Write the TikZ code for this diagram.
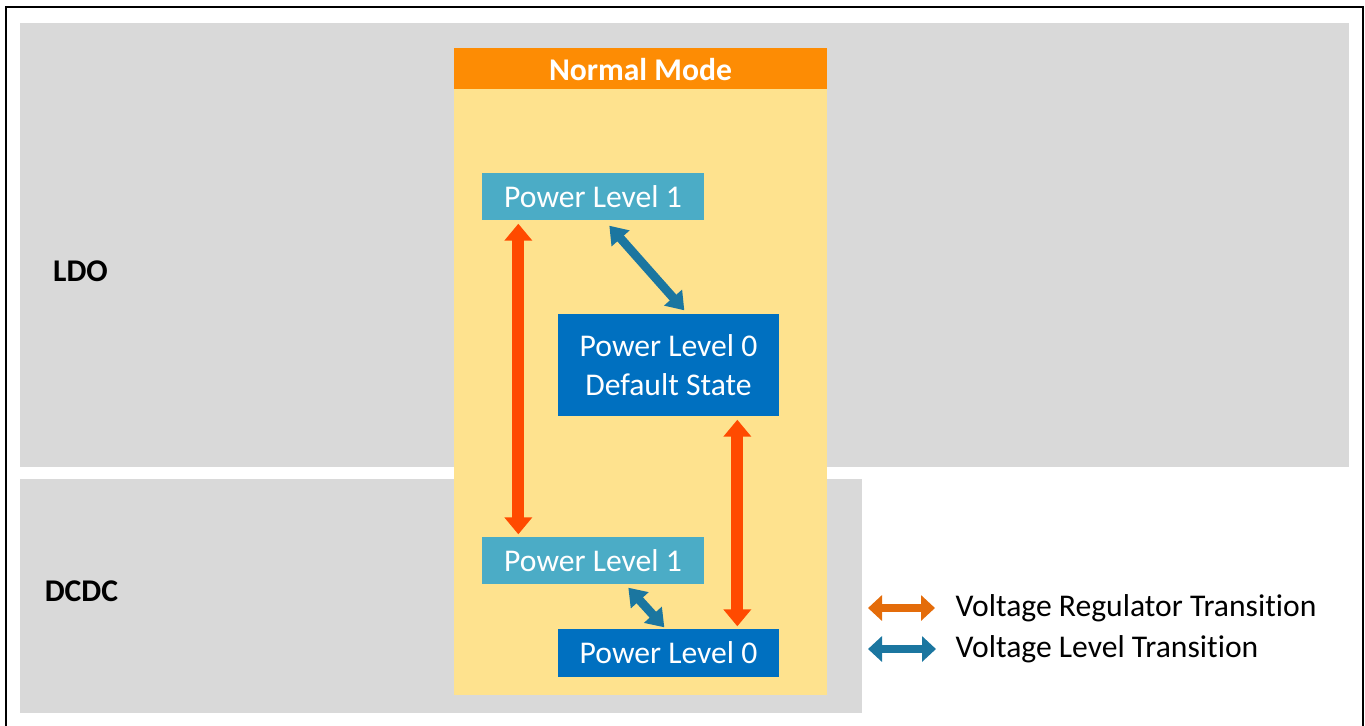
\documentclass[tikz,border=0pt]{standalone}
\usepackage{fontspec}
\setmainfont{Carlito}[Ligatures=NoCommon]
\usetikzlibrary{arrows.meta,calc}
\definecolor{bandgray}{HTML}{D9D9D9}
\definecolor{modeyellow}{HTML}{FEE28E}
\definecolor{modeorange}{HTML}{FD8C04}
\definecolor{lightlvl}{HTML}{4BACC6}
\definecolor{darklvl}{HTML}{0070C0}
\definecolor{regred}{HTML}{FF4A00}
\definecolor{lvlblue}{HTML}{1B76A0}
\definecolor{legorange}{HTML}{E46C0A}
\begin{document}
\begin{tikzpicture}[x=0.02cm,y=-0.02cm,line width=.8pt,
  lvl/.style={text=white,font=\fontsize{18}{22}\selectfont,align=center,inner sep=0pt},
  reg/.style={line width=7pt,regred,{Triangle[width=.54cm,length=.34cm]}-{Triangle[width=.54cm,length=.34cm]}},
  volt/.style={line width=5pt,lvlblue,{Triangle[width=.46cm,length=.34cm]}-{Triangle[width=.46cm,length=.34cm]}}]
\path[use as bounding box,clip] (0,0) rectangle (1365,725);
\draw[line width=1.2pt] (6,7) rectangle (1363,760);
\fill[bandgray] (20,23) rectangle (1349,467); \fill[bandgray] (20,479) rectangle (862,713);
\fill[modeyellow] (454,48) rectangle (827,695); \fill[modeorange] (454,48) rectangle (827,89);
\node[text=white,font=\fontsize{18}{22}\selectfont\bfseries] (mode) at (640.5,70) {Normal Mode};
\node[font=\fontsize{18}{22}\selectfont\bfseries] (ldo) at (80.5,271) {LDO};
\node[font=\fontsize{18}{22}\selectfont\bfseries] (dcdc) at (81.5,591) {DCDC};
\node[lvl,fill=lightlvl,minimum width=4.44cm,minimum height=.94cm] (ldoa) at (593,196.5) {Power Level 1};
\node[lvl,fill=darklvl,minimum width=4.42cm,minimum height=2.04cm] (ldob) at (668.5,365) {Power Level 0\\Default State};
\node[lvl,fill=lightlvl,minimum width=4.44cm,minimum height=.94cm] (dca) at (593,560.5) {Power Level 1};
\node[lvl,fill=darklvl,minimum width=4.42cm,minimum height=.96cm] (dcb) at (668.5,653) {Power Level 0};
\draw[reg] ($(ldoa.south west)+(37,3)$) -- ($(dca.north west)+(37,-2)$);
\draw[reg] ($(ldob.south west)+(180,3)$) -- ($(dcb.north west)+(180,-2)$);
\draw[volt] ($(ldoa.south west)+(128,5)$) -- ($(ldob.north west)+(127,-3)$);
\draw[volt] ($(dca.south west)+(147,3)$) -- ($(dcb.north west)+(107,-1)$);
% legend
\node[anchor=west,font=\fontsize{18}{22}\selectfont] (legreg) at (949,608) {Voltage Regulator Transition};
\node[anchor=west,font=\fontsize{18}{22}\selectfont] (legvolt) at (949,649) {Voltage Level Transition};
\draw[line width=4.6pt,legorange,{Triangle[width=.5cm,length=.28cm]}-{Triangle[width=.5cm,length=.28cm]}] ($(legreg.west)+(-81,0)$) -- ($(legreg.west)+(-14,0)$);
\draw[line width=4.6pt,lvlblue,{Triangle[width=.5cm,length=.28cm]}-{Triangle[width=.5cm,length=.28cm]}] ($(legvolt.west)+(-81,0)$) -- ($(legvolt.west)+(-13,0)$);
\end{tikzpicture}
\end{document}
